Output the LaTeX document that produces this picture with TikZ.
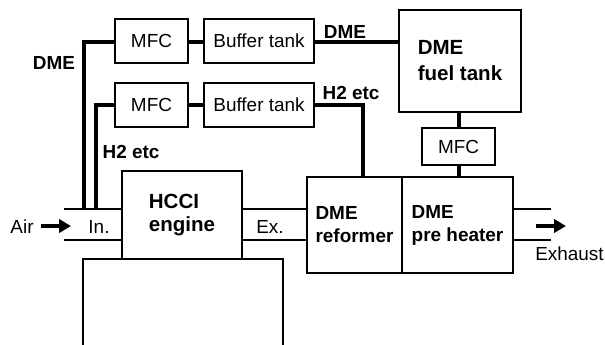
\documentclass[tikz,border=0pt]{standalone}
\usepackage{fontspec}
\setmainfont{Liberation Sans}
\usetikzlibrary{arrows.meta}
\begin{document}
\begin{tikzpicture}[x=0.75pt,y=-0.75pt,
  box/.style={draw, line width=1.1pt, inner sep=0pt, font=\fontsize{14.2}{17}\selectfont},
  bigtxt/.style={font=\fontsize{15.4}{19.5}\selectfont\bfseries, align=left},
  bldtxt/.style={font=\fontsize{14.2}{17.2}\selectfont\bfseries, align=left},
  lbl/.style={inner sep=0pt, font=\fontsize{14.2}{17}\selectfont},
  blbl/.style={inner sep=0pt, font=\fontsize{14.2}{17}\selectfont\bfseries},
  pipe/.style={line width=3pt},
  thin/.style={line width=1.1pt},
  flow/.style={line width=2.4pt, -{Triangle[length=9pt,width=10pt]}}]
\useasboundingbox (0,0) rectangle (605,344);
% boxes
\node[box, minimum width=54.75pt, minimum height=33pt] (mfc1) at (151.5,41) {MFC};
\node[box, minimum width=82.5pt, minimum height=33pt] (buf1) at (259,41) {Buffer tank};
\node[box, minimum width=54.75pt, minimum height=33pt] (mfc2) at (151.5,105) {MFC};
\node[box, minimum width=82.5pt, minimum height=33pt] (buf2) at (259,105) {Buffer tank};
\node[box, bigtxt, minimum width=91.5pt, minimum height=76.5pt] (tank) at (460,61) {DME\\fuel tank};
\node[box, minimum width=54.75pt, minimum height=27.75pt] (mfc3) at (458.5,146.5) {MFC};
\node[box, bigtxt, minimum width=90pt, minimum height=66pt, font=\fontsize{15.4}{17.2}\selectfont\bfseries] (engine) at (182,215) {HCCI\\engine};
\node[box, bldtxt, minimum width=71.25pt, minimum height=72pt] (reformer) at (354.5,225) {DME\\reformer};
\node[box, bldtxt, minimum width=83.25pt, minimum height=72pt] (preheater) at (457.5,225) {DME\\pre heater};
% base block (open at bottom)
\coordinate (b1) at (83,346);
\coordinate (b2) at (83,259);
\coordinate (b3) at (283,259);
\coordinate (b4) at (283,346);
\draw[thin] (b1) -- (b2) -- (b3) -- (b4);
% pipes
\coordinate (inA) at (64,209);
\coordinate (inB) at (64,240);
\draw[thin] (inA) -- (inA -| engine.west);
\draw[thin] (inB) -- (inB -| engine.west);
\coordinate (exA) at (242,209);
\coordinate (exB) at (242,240);
\draw[thin] (exA) -- (exA -| reformer.west);
\draw[thin] (exB) -- (exB -| reformer.west);
\coordinate (outA) at (551,209);
\coordinate (outB) at (551,240);
\draw[thin] (outA) -- (preheater.east |- outA);
\draw[thin] (outB) -- (preheater.east |- outB);
% thick lines
\coordinate (d1) at (84,42);
\coordinate (d2) at (84,209);
\draw[pipe] (mfc1.west |- d1) -- (d1) -- (d2);
\coordinate (h1) at (96,105);
\coordinate (h2) at (96,209);
\draw[pipe] (mfc2.west |- h1) -- (h1) -- (h2);
\draw[pipe] (mfc1.east |- d1) -- (buf1.west |- d1);
\draw[pipe] (mfc2.east |- h1) -- (buf2.west |- h1);
\draw[pipe] (buf1.east |- d1) -- (tank.west |- d1);
\coordinate (r1) at (363,105);
\draw[pipe] (buf2.east |- r1) -- (r1) -- (r1 |- reformer.north);
\coordinate (t1) at (459,112);
\draw[pipe] (tank.south -| t1) -- (mfc3.north -| t1);
\draw[pipe] (mfc3.south -| t1) -- (preheater.north -| t1);
% flow arrows
\coordinate (a1) at (41,226);
\coordinate (a2) at (71,226);
\draw[flow] (a1) -- (a2);
\coordinate (e1) at (536,226);
\coordinate (e2) at (566,226);
\draw[flow] (e1) -- (e2);
% labels
\node[lbl] (air) at (22,227) {Air};
\node[lbl] (in) at (99,227) {In.};
\node[lbl] (ex) at (270,227) {Ex.};
\node[lbl, anchor=west] (exh) at (535,254) {Exhaust};
\node[blbl] (ldme1) at (54,63) {DME};
\node[blbl] (lh21) at (131,152) {H2 etc};
\node[blbl] (ldme2) at (345,32) {DME};
\node[blbl] (lh22) at (351,93) {H2 etc};
\end{tikzpicture}
\end{document}
